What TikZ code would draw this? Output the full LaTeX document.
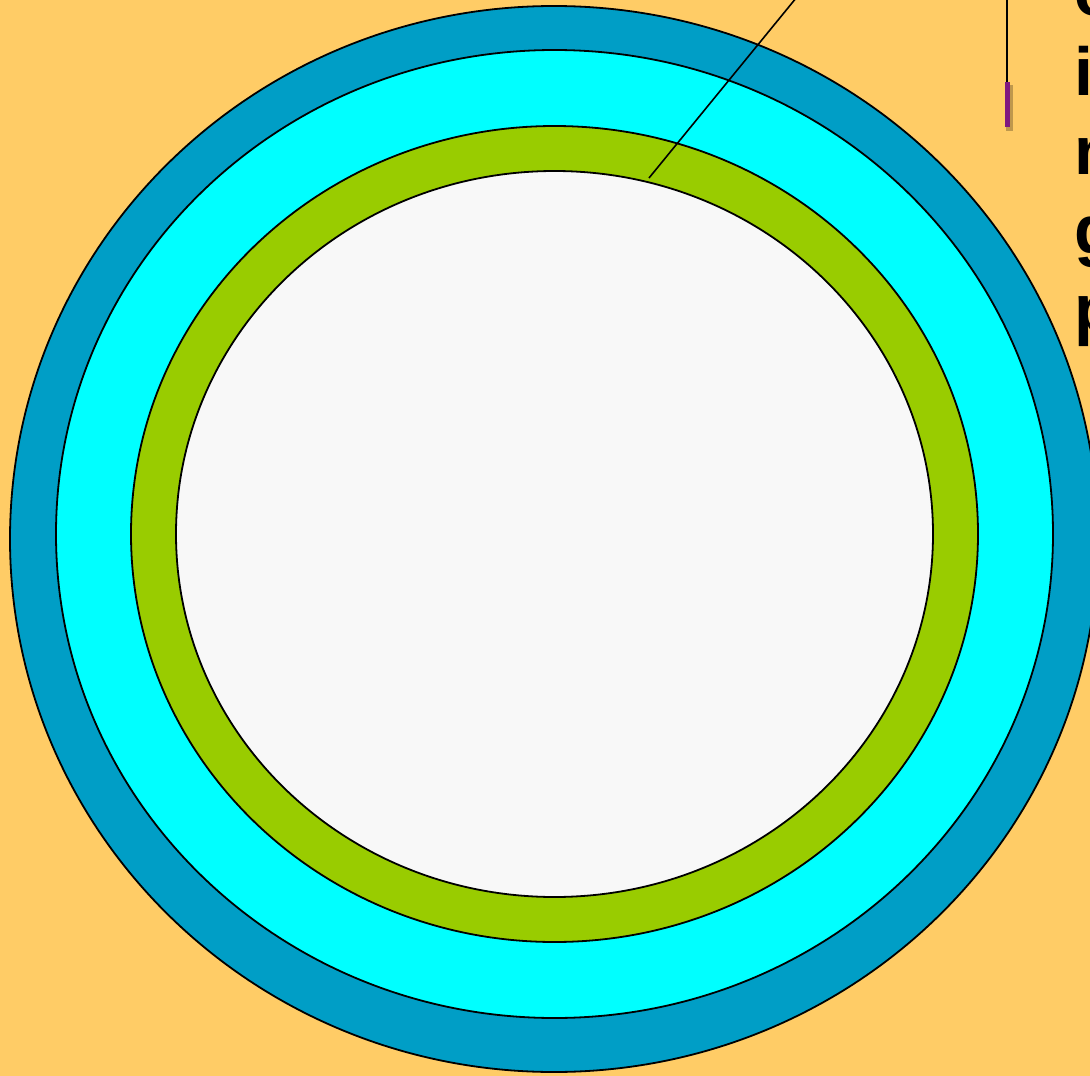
\documentclass[tikz,border=0pt]{standalone}
\usepackage{fontspec}
\setmainfont{Liberation Sans}
\usepackage{tikz}
\usetikzlibrary{calc}
\definecolor{bggold}{RGB}{255,204,102}
\definecolor{crustblue}{RGB}{0,158,198}
\definecolor{mantlecyan}{RGB}{0,255,255}
\definecolor{layergreen}{RGB}{153,204,0}
\definecolor{corewhite}{RGB}{248,248,248}
\definecolor{tagpurple}{RGB}{128,24,128}
\tikzset{
  ring/.style={draw=black, line width=1.8pt},
  lead/.style={draw=black, line width=1.6pt},
  lbl/.style={font=\fontsize{68}{78}\selectfont\bfseries, inner sep=0pt, anchor=base west},
}

\begin{document}
\begin{tikzpicture}[x=1pt,y=-1pt]
  \useasboundingbox (0,0) rectangle (1090,1076);
  \clip (0,0) rectangle (1090,1076);
  % background
  \fill[bggold] (0,0) rectangle (1090,1076);
  % layers
  \filldraw[ring, fill=crustblue] (554,539) ellipse [x radius=544, y radius=533];
  \filldraw[ring, fill=mantlecyan] (554.5,534) ellipse [x radius=498.5, y radius=484];
  \filldraw[ring, fill=layergreen] (554.5,534) ellipse [x radius=423.5, y radius=408];
  \filldraw[ring, fill=corewhite] (554.5,534) ellipse [x radius=378.5, y radius=363];
  % leader line
  \coordinate (tip) at (649,178);
  \coordinate (off) at (810,-19);
  \draw[lead] (tip) -- (off);
  % marker
  \coordinate (mtop) at (1007,-5);
  \coordinate (mbot) at (1007,82);
  \draw[lead] (mtop) -- (mbot);
  \fill[black, opacity=0.25] (1006,85) rectangle (1013,131);
  \fill[tagpurple] (1004.5,82) rectangle (1010,127);
  % cut-off text
  \foreach \ch [count=\k] in {o,i,n,g,p}
    \node[lbl] (txt\k) at (1074,{16+79*(\k-1)}) {\ch};
\end{tikzpicture}
\end{document}
